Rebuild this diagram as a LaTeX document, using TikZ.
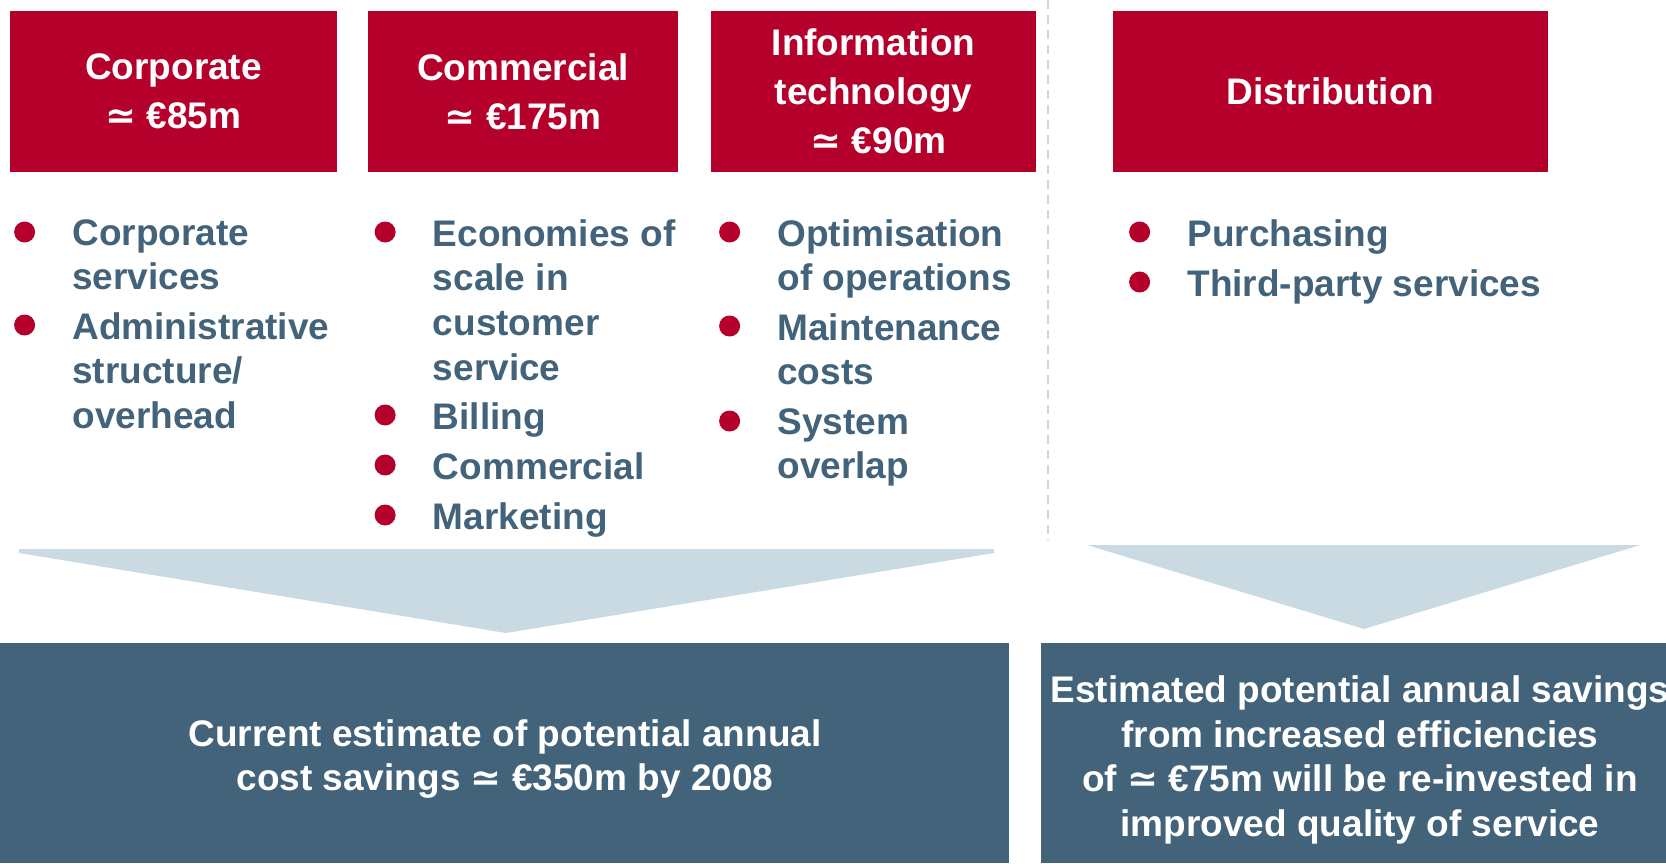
\documentclass[tikz,border=0pt]{standalone}
\usepackage{fontspec}
\setmainfont{Liberation Sans}
\newfontfamily\symfont{DejaVu Sans}
\usetikzlibrary{positioning}

\definecolor{boxred}{RGB}{180,0,42}
\definecolor{slate}{RGB}{67,99,122}
\definecolor{paleblue}{RGB}{201,218,227}
\definecolor{rulegrey}{RGB}{200,215,226}

\newcommand{\simsym}{{\symfont\bfseries ≃}}

\tikzset{
  hdr/.style={fill=boxred, text=white, inner sep=0pt, align=center,
    minimum height=80.5pt, font=\bfseries\fontsize{18.5}{24.5}\selectfont},
  item/.style={anchor=north west, inner sep=0pt, align=left, text=slate,
    font=\bfseries\fontsize{18.5}{22.3}\selectfont},
  dot/.style={circle, fill=boxred, inner sep=0pt, minimum size=10.5pt},
  totalbox/.style={fill=slate, inner sep=0pt, minimum height=110pt},
  totaltext/.style={text=white, inner sep=0pt, align=center,
    font=\bfseries\fontsize{18.5}{22.3}\selectfont},
}

\begin{document}
\begin{tikzpicture}[x=0.5pt, y=-0.5pt]
  \useasboundingbox (0,0) rectangle (1666,863);

  % headers
  \node[hdr, minimum width=163.5pt] (corp) at (173.5,91.5) {Corporate\\ \simsym{} €85m};
  \node[hdr, minimum width=155pt] (comm) at (523,91.5) {Commercial\\ \simsym{} €175m};
  \node[hdr, minimum width=162.5pt] (it) at (873.5,91.5) {Information\\technology\\ \ \simsym{} €90m};
  \node[hdr, minimum width=217.5pt] (dist) at (1330.5,91.5) {Distribution};

  % separator
  \coordinate (septop) at (1048,0);
  \coordinate (sepbot) at (1048,541);
  \draw[rulegrey, line width=1pt, dash pattern=on 4.5pt off 3pt] (septop) -- (sepbot);

  % bullet lists
  \node[item] (corp1) at (72,219) {Corporate\\services};
  \node[item] (corp2) at (72,312) {Administrative\\structure/\\overhead};

  \node[item] (comm1) at (432.5,219) {Economies of\\scale in\\customer\\service};
  \node[item] (comm2) at (432.5,402) {Billing};
  \node[item] (comm3) at (432.5,452) {Commercial};
  \node[item] (comm4) at (432.5,502) {Marketing};

  \node[item] (it1) at (777,219) {Optimisation\\of operations};
  \node[item] (it2) at (777,313) {Maintenance\\costs};
  \node[item] (it3) at (777,408) {System\\overlap};

  \node[item] (dist1) at (1187,219) {Purchasing};
  \node[item] (dist2) at (1187,269) {Third-party services};

  \foreach \n in {corp1,corp2,comm1,comm2,comm3,comm4,it1,it2,it3,dist1,dist2}
    \node[dot, left=18.25pt of \n.north west, yshift=-6.5pt] (\n dot) {};

  % funnels
  \fill[paleblue] (19,549) -- (994,549) -- (994,553) -- (506,633) -- (19,553) -- cycle;
  \fill[paleblue] (1087,545) -- (1640,545) -- (1364,629) -- cycle;

  % totals
  \node[totalbox, minimum width=504.5pt] (estbox) at (504.5,753) {};
  \node[totaltext] (esttext) at (505,759) {Current estimate of potential annual\\cost savings \simsym{} €350m by 2008};
  \node[totalbox, minimum width=312.5pt] (reinvbox) at (1353.5,753) {};
  \node[totaltext] (reinvtext) at (1360,760) {Estimated potential annual savings\\from increased efficiencies\\of \simsym{} €75m will be re-invested in\\improved quality of service};
\end{tikzpicture}
\end{document}
